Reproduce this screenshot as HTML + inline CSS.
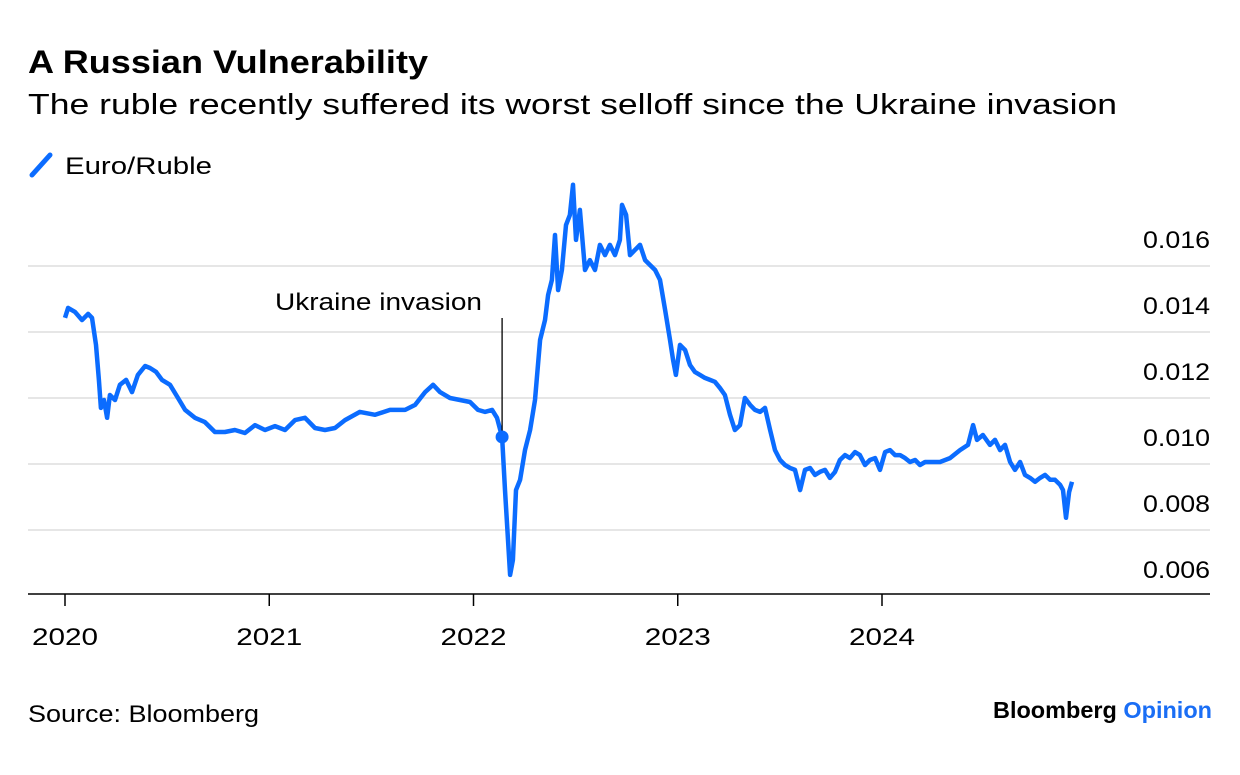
<!DOCTYPE html>
<html><head><meta charset="utf-8"><style>
body{margin:0;background:#fff;width:1240px;height:770px;overflow:hidden;font-family:"Liberation Sans",sans-serif;}
</style></head><body>
<svg width="1240" height="770" xmlns="http://www.w3.org/2000/svg" font-family="Liberation Sans, sans-serif">
<text x="28" y="73" font-size="32" font-weight="bold" fill="#000" textLength="400" lengthAdjust="spacingAndGlyphs">A Russian Vulnerability</text>
<text x="28" y="114" font-size="29" fill="#000" textLength="1089" lengthAdjust="spacingAndGlyphs">The ruble recently suffered its worst selloff since the Ukraine invasion</text>
<line x1="32" y1="175" x2="50" y2="155" stroke="#0b6cff" stroke-width="5" stroke-linecap="round"/>
<text x="65" y="174" font-size="24" fill="#000" textLength="147" lengthAdjust="spacingAndGlyphs">Euro/Ruble</text>
<g id="grid"></g><g id="yl"></g><g id="xl"></g>
<line x1="28" y1="594" x2="1210" y2="594" stroke="#000" stroke-width="1.5"/>
<path id="series" fill="none" stroke="#0b6cff" stroke-width="4.5" stroke-linejoin="round"/>
<line id="annLine" stroke="#000" stroke-width="1.3"/>
<circle id="annDot" r="6.5" fill="#0b6cff"/>
<text x="482" y="310" font-size="24" text-anchor="end" fill="#000" textLength="207" lengthAdjust="spacingAndGlyphs">Ukraine invasion</text>
<text x="28" y="722" font-size="24" fill="#000" textLength="231" lengthAdjust="spacingAndGlyphs">Source: Bloomberg</text>
<text x="1212" y="718" font-size="23" font-weight="bold" text-anchor="end" textLength="219" lengthAdjust="spacingAndGlyphs"><tspan fill="#000">Bloomberg </tspan><tspan fill="#1a6ef5">Opinion</tspan></text>
</svg>
<script>
const dates=[2020.00,2020.015,2020.049,2020.083,2020.113,2020.132,2020.152,2020.166,2020.176,2020.191,2020.206,2020.220,2020.245,2020.269,2020.299,2020.328,2020.357,2020.392,2020.416,2020.446,2020.475,2020.514,2020.553,2020.588,2020.636,2020.685,2020.734,2020.783,2020.832,2020.881,2020.930,2020.979,2021.028,2021.077,2021.126,2021.175,2021.224,2021.273,2021.322,2021.371,2021.444,2021.518,2021.591,2021.665,2021.714,2021.763,2021.802,2021.836,2021.885,2021.934,2021.983,2022.022,2022.056,2022.091,2022.115,2022.140,2022.154,2022.169,2022.179,2022.193,2022.208,2022.228,2022.252,2022.277,2022.301,2022.326,2022.350,2022.365,2022.384,2022.399,2022.414,2022.433,2022.453,2022.472,2022.487,2022.502,2022.521,2022.546,2022.570,2022.595,2022.619,2022.644,2022.668,2022.693,2022.717,2022.727,2022.747,2022.766,2022.791,2022.815,2022.840,2022.864,2022.889,2022.913,2022.938,2022.962,2022.977,2022.991,2023.011,2023.036,2023.060,2023.084,2023.109,2023.133,2023.158,2023.182,2023.207,2023.231,2023.256,2023.280,2023.305,2023.329,2023.354,2023.378,2023.403,2023.427,2023.452,2023.476,2023.501,2023.525,2023.550,2023.574,2023.599,2023.623,2023.648,2023.672,2023.696,2023.721,2023.745,2023.770,2023.794,2023.819,2023.843,2023.868,2023.892,2023.917,2023.941,2023.966,2023.990,2024.015,2024.039,2024.064,2024.088,2024.113,2024.137,2024.162,2024.186,2024.211,2024.235,2024.284,2024.333,2024.382,2024.421,2024.446,2024.465,2024.494,2024.529,2024.553,2024.578,2024.602,2024.627,2024.651,2024.676,2024.700,2024.725,2024.749,2024.774,2024.798,2024.823,2024.847,2024.872,2024.886,2024.901,2024.916,2024.930];
const values=[0.01443,0.01473,0.01461,0.01436,0.01455,0.01443,0.01361,0.01255,0.01170,0.01194,0.01140,0.01209,0.01194,0.01240,0.01255,0.01218,0.01270,0.01297,0.01291,0.01279,0.01255,0.01240,0.01200,0.01164,0.01140,0.01127,0.01097,0.01097,0.01103,0.01094,0.01118,0.01103,0.01115,0.01103,0.01133,0.01140,0.01109,0.01103,0.01109,0.01133,0.01158,0.01149,0.01164,0.01164,0.01179,0.01218,0.01240,0.01218,0.01200,0.01194,0.01188,0.01164,0.01158,0.01164,0.01140,0.01082,0.00921,0.00770,0.00664,0.00709,0.00921,0.00952,0.01042,0.01103,0.01194,0.01376,0.01436,0.01512,0.01558,0.01694,0.01527,0.01588,0.01724,0.01755,0.01846,0.01679,0.01770,0.01588,0.01618,0.01588,0.01664,0.01633,0.01664,0.01633,0.01679,0.01785,0.01755,0.01633,0.01649,0.01664,0.01618,0.01603,0.01588,0.01558,0.01467,0.01376,0.01315,0.01270,0.01361,0.01345,0.01300,0.01279,0.01270,0.01261,0.01255,0.01249,0.01230,0.01209,0.01149,0.01103,0.01118,0.01200,0.01179,0.01164,0.01158,0.01170,0.01103,0.01042,0.01012,0.00997,0.00988,0.00982,0.00921,0.00982,0.00988,0.00967,0.00976,0.00982,0.00958,0.00976,0.01012,0.01027,0.01018,0.01036,0.01027,0.00997,0.01012,0.01018,0.00982,0.01036,0.01042,0.01027,0.01027,0.01018,0.01006,0.01012,0.00997,0.01006,0.01006,0.01006,0.01018,0.01042,0.01058,0.01118,0.01073,0.01088,0.01058,0.01073,0.01042,0.01058,0.01006,0.00982,0.01006,0.00967,0.00958,0.00946,0.00958,0.00967,0.00952,0.00952,0.00937,0.00921,0.00837,0.00915,0.00946];
const yTicks=[0.006,0.008,0.010,0.012,0.014,0.016];
const yTickLabels=["0.006","0.008","0.010","0.012","0.014","0.016"];
const xTicks=[2020,2021,2022,2023,2024];
const xTickLabels=["2020","2021","2022","2023","2024"];
const invasionDate=2022.140, invasionValue=0.01082;
const NS="http://www.w3.org/2000/svg";
function xs(d){return 65+(d-2020)*204.25;}
function ys(v){return 464-(v-0.010)*33000;}
const grid=document.getElementById('grid'),yl=document.getElementById('yl'),xl=document.getElementById('xl');
yTicks.forEach((t,i)=>{
  if(i>0){const l=document.createElementNS(NS,'line');
  l.setAttribute('x1',28);l.setAttribute('x2',1210);l.setAttribute('y1',ys(t));l.setAttribute('y2',ys(t));
  l.setAttribute('stroke','#e6e6e6');l.setAttribute('stroke-width','2');
  
  
  grid.appendChild(l);}
  const tx=document.createElementNS(NS,'text');
  tx.setAttribute('x',1210);tx.setAttribute('y',ys(t)-18);tx.setAttribute('text-anchor','end');tx.setAttribute('font-size','24');
  tx.setAttribute('textLength','67');tx.setAttribute('lengthAdjust','spacingAndGlyphs');
  tx.textContent=yTickLabels[i];
  
  
  yl.appendChild(tx);
});
xTicks.forEach((t,i)=>{
  const l=document.createElementNS(NS,'line');
  l.setAttribute('x1',xs(t));l.setAttribute('x2',xs(t));l.setAttribute('y1',594);l.setAttribute('y2',606);
  l.setAttribute('stroke','#000');l.setAttribute('stroke-width','1.5');
  
  
  xl.appendChild(l);
  const tx=document.createElementNS(NS,'text');
  tx.setAttribute('x',xs(t));tx.setAttribute('y',645);tx.setAttribute('text-anchor','middle');tx.setAttribute('font-size','24');
  tx.setAttribute('textLength','66');tx.setAttribute('lengthAdjust','spacingAndGlyphs');
  tx.textContent=xTickLabels[i];
  
  
  xl.appendChild(tx);
});
document.getElementById('series').setAttribute('d',dates.map((d,i)=>(i?'L':'M')+xs(d).toFixed(1)+','+ys(values[i]).toFixed(1)).join(''));
const al=document.getElementById('annLine');
al.setAttribute('x1',xs(invasionDate));al.setAttribute('x2',xs(invasionDate));al.setAttribute('y1',318);al.setAttribute('y2',ys(invasionValue));
const ad=document.getElementById('annDot');ad.setAttribute('cx',xs(invasionDate));ad.setAttribute('cy',ys(invasionValue));
</script>
</body></html>
